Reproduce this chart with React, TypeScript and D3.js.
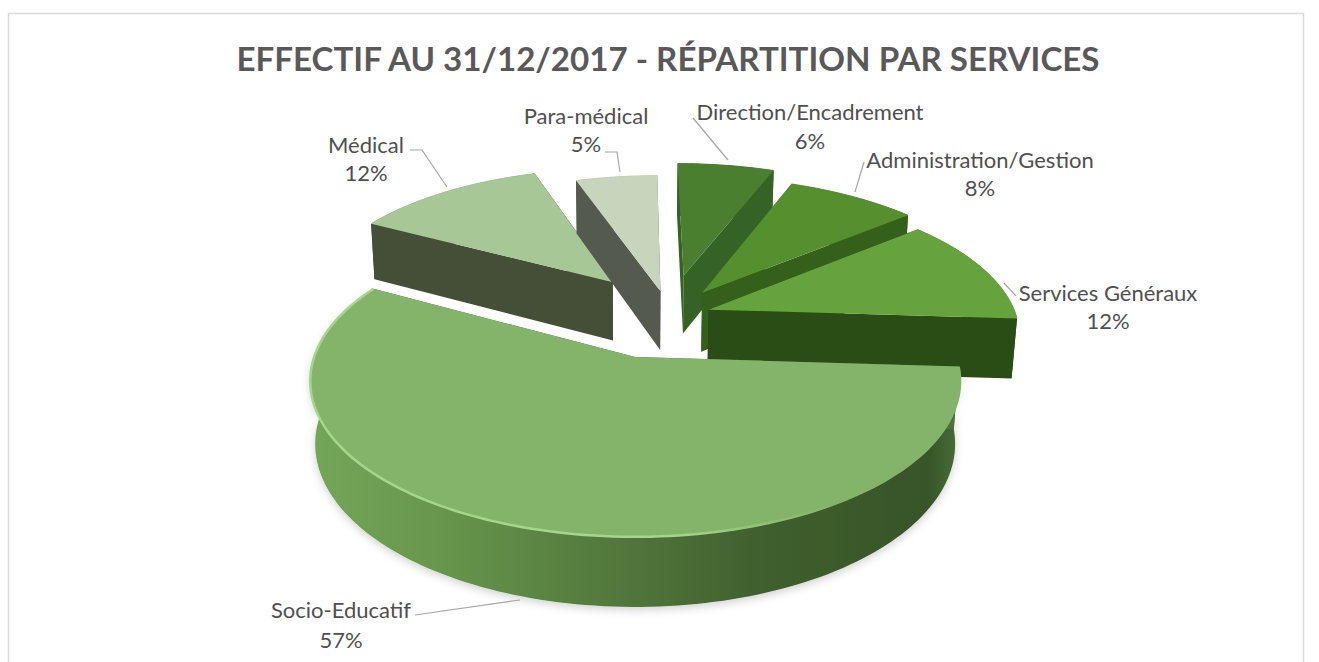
import React from "react";
import * as d3 from "d3";

const categories = ["Direction/Encadrement", "Administration/Gestion", "Services Généraux", "Socio-Educatif", "Médical", "Para-médical"];
const shares = [6, 8, 12, 57, 12, 5];
const faceColors = ["#4a7f2e", "#56902f", "#66a33d", "#83b46b", "#a7c797", "#c6d5bb"];
const wallColors = ["#356325", "#34601f", "#2b4d14", "#4f7039", "#445039", "#555a50"];
const explosions = [0.3, 0.26, 0.25, 0.26, 0.27, 0.23];
const drawOrder = [4, 5, 0, 1, 2, 3];
const title = "EFFECTIF AU 31/12/2017 - RÉPARTITION PAR SERVICES";

// layout
const W = 1319, H = 662;
const proj = { cx: 635, cy: 357, R: 321, K: 152, p: 0.155, q: 0.015, depth: 63 };
const centre = { x: 0.073, y: -0.25 };
const nudges = [
  { x: 0.036, y: -0.04 },
  { x: -0.002, y: 0.008 },
  { x: -0.07, y: 0 },
  { x: 0, y: 0 },
  { x: 0.024, y: -0.075 },
  { x: 0.048, y: 0.013 },
];
const labelPos = [
  { x: 810, y: 120, y2: 149 },
  { x: 980, y: 168, y2: 196 },
  { x: 1108, y: 301, y2: 329 },
  { x: 341, y: 618, y2: 648 },
  { x: 366, y: 153, y2: 181 },
  { x: 586, y: 124, y2: 152 },
];
const leaders: [number, number][][] = [
  [[693, 118], [728, 160]],
  [[864, 162], [855, 192]],
  [[1004, 283], [1016, 296]],
  [[415, 615], [520, 600]],
  [[410, 150], [422, 150], [447, 187]],
  [[605, 152], [617, 152], [620, 172]],
];

function project(X: number, Y: number, Z: number): [number, number] {
  const w = 1 - proj.p * Y + proj.q * Z;
  return [proj.cx + (proj.R * X) / w, proj.cy + (proj.K * Y + proj.depth * Z) / w];
}

const pieGen = d3.pie<number>().sort(null).startAngle(0).endAngle(2 * Math.PI);
const arcs = pieGen(shares);
const line = d3.line();

function slicePoints(i: number) {
  const a = arcs[i];
  const mid = (a.startAngle + a.endAngle) / 2;
  const ox = centre.x + nudges[i].x + explosions[i] * Math.sin(mid);
  const oy = centre.y + nudges[i].y - explosions[i] * Math.cos(mid);
  const pt = (t: number, r: number, z: number) => project(ox + r * Math.sin(t), oy - r * Math.cos(t), z);
  const n = Math.ceil((a.endAngle - a.startAngle) * 40);
  const ts = d3.range(n + 1).map((k) => a.startAngle + ((a.endAngle - a.startAngle) * k) / n);
  return { a, pt, ts };
}

export default function App() {
  return (
    <svg width={W} height={H} viewBox={`0 0 ${W} ${H}`} style={{ position: "absolute", left: 0, top: 0, background: "#fff" }}>
      <defs>
        <linearGradient id="socioWall" x1="0" x2="1" y1="0" y2="0">
          <stop offset="0" stopColor="#74a658" />
          <stop offset="0.2" stopColor="#67964c" />
          <stop offset="0.45" stopColor="#547a3e" />
          <stop offset="0.7" stopColor="#3f5f2d" />
          <stop offset="0.95" stopColor="#37552a" />
          <stop offset="1" stopColor="#4a6e35" />
        </linearGradient>
        <linearGradient id="socioRim" x1="0" x2="1" y1="0" y2="0">
          <stop offset="0" stopColor="#a4d68b" />
          <stop offset="0.55" stopColor="#a4d68b" />
          <stop offset="0.8" stopColor="#83b46b" />
        </linearGradient>
        <filter id="shadow" x="-10%" y="-10%" width="120%" height="120%">
          <feDropShadow dx="0" dy="3" stdDeviation="4" floodColor="#000" floodOpacity="0.18" />
        </filter>
        <filter id="soft" x="-5%" y="-5%" width="110%" height="110%">
          <feGaussianBlur stdDeviation="0.6" />
        </filter>
      </defs>
      <rect x={8.5} y={13.5} width={1295} height={700} fill="#fff" stroke="#d9d9d9" strokeWidth={1.5} />
      <text x={668} y={71} textAnchor="middle" fontFamily="Lato, sans-serif" fontWeight={700} fontSize={32} fill="#595959" textLength={863} lengthAdjust="spacingAndGlyphs">
        {title}
      </text>
      <g filter="url(#soft)">
        {drawOrder.map((i) => {
          const { pt, ts, a } = slicePoints(i);
          const top = ts.map((t) => pt(t, 1, 0));
          const bottom = ts.map((t) => pt(t, 1, 1));
          const outer = [...top, ...bottom.slice().reverse()];
          const startWall = [pt(a.startAngle, 0, 0), pt(a.startAngle, 1, 0), pt(a.startAngle, 1, 1), pt(a.startAngle, 0, 1)];
          const endWall = [pt(a.endAngle, 0, 0), pt(a.endAngle, 1, 0), pt(a.endAngle, 1, 1), pt(a.endAngle, 0, 1)];
          const face = [pt(a.startAngle, 0, 0), ...top];
          const isSocio = categories[i] === "Socio-Educatif";
          return (
            <g key={categories[i]}>
              <path d={line(outer)! + "Z"} fill={isSocio ? "url(#socioWall)" : wallColors[i]} filter={isSocio ? "url(#shadow)" : undefined} />
              <path d={line(startWall)! + "Z"} fill={wallColors[i]} />
              <path d={line(endWall)! + "Z"} fill={wallColors[i]} />
              <path d={line(face)! + "Z"} fill={faceColors[i]} />
              <path d={line(top)!} fill="none" stroke={isSocio ? "url(#socioRim)" : faceColors[i]} strokeWidth={isSocio ? 2.5 : 1} />
            </g>
          );
        })}
      </g>
      {leaders.map((pts, i) => (
        <path key={categories[i]} d={line(pts)!} fill="none" stroke="#a6a6a6" strokeWidth={1.2} />
      ))}
      {categories.map((c, i) => (
        <g key={c} fontFamily="Lato, sans-serif" fontSize={22} fill="#4f4f4f" textAnchor="middle">
          <text x={labelPos[i].x} y={labelPos[i].y}>{c}</text>
          <text x={labelPos[i].x} y={labelPos[i].y2}>{shares[i]}%</text>
        </g>
      ))}
    </svg>
  );
}
